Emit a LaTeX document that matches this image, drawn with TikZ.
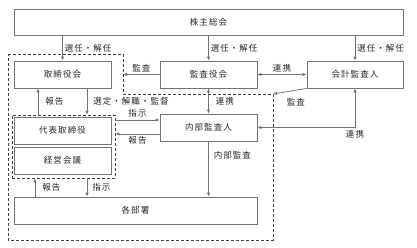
\documentclass[tikz,border=0pt]{standalone}
\usepackage{fontspec}
\setmainfont[LetterSpace=12]{Noto Sans CJK JP}
\usetikzlibrary{arrows.meta}

\begin{document}
\begin{tikzpicture}[x=1pt, y=-1pt,
    box/.style={draw=gray!90!black, line width=0.8pt, minimum width=97pt, minimum height=27pt, inner sep=0pt, text=black!85, font=\fontsize{8.5}{10}\selectfont},
    lbl/.style={font=\fontsize{8.5}{10}\selectfont, text=black!85, inner sep=2pt},
    arr/.style={draw=gray!90!black, line width=0.8pt, -{Latex[length=4pt,width=3.5pt]}},
    arrb/.style={draw=gray!90!black, line width=0.8pt, {Latex[length=4pt,width=3.5pt]}-{Latex[length=4pt,width=3.5pt]}},
    grp/.style={draw=black!75, line width=0.8pt, dash pattern=on 3pt off 2pt}]
    \useasboundingbox (0,0) rectangle (417,247);

    % skupina představenstva
    \draw[grp] (8,54) -- (123,54) -- (123,94) -- (273,94) -- (273,240) -- (8,240) -- cycle;
    \node[grp, minimum width=103pt, minimum height=63pt] (vedeni) at (63.5,146.5) {};

    % boxy
    \node[box, minimum width=389pt, minimum height=26pt] (valna) at (208.5,22) {株主総会};
    \node[box] (predst) at (62.5,74.5) {取締役会};
    \node[box] (dozor) at (208.5,74.5) {監査役会};
    \node[box, minimum width=96pt] (auditor) at (355,74.5) {会計監査人};
    \node[box] (reditel) at (62.5,130.5) {代表取締役};
    \node[box] (porada) at (62.5,160.5) {経営会議};
    \node[box] (interni) at (208.5,127.5) {内部監査人};
    \node[box, minimum width=243pt] (utvary) at (135.5,210.5) {各部署};

    \coordinate (grpL) at (123,74.5);
    \coordinate (grpR) at (273,94);

    % šipky
    \draw[arr] (valna.south -| predst.north) -- (predst.north) node[lbl, midway, right] {選任・解任};
    \draw[arr] (valna.south -| dozor.north) -- (dozor.north) node[lbl, midway, right] {選任・解任};
    \draw[arr] (valna.south -| auditor.north) -- (auditor.north) node[lbl, midway, right] {選任・解任};
    \draw[arr] (dozor.west) -- (grpL) node[lbl, midway, above] {監査};
    \draw[arrb] (dozor.east) -- (auditor.west) node[lbl, midway, above] {連携};
    \draw[arr] ([xshift=-24.5pt]predst.south |- vedeni.north) -- ([xshift=-24.5pt]predst.south) node[lbl, midway, right=5pt] {報告};
    \draw[arr] ([xshift=24.5pt]predst.south) -- ([xshift=24.5pt]predst.south |- vedeni.north) node[lbl, midway, right=4pt] {選定・解職・監督};
    \draw[arrb] (dozor.south) -- (interni.north) node[lbl, midway, right=5pt] {連携};
    \draw[arr] (auditor.south west) -- (grpR) node[lbl, midway, below=5pt, xshift=6pt] {監査};
    \draw[arrb] (auditor.south) |- (interni.east) node[lbl, pos=0.5, below] {連携};
    \draw[arr] ([yshift=7.5pt]interni.west -| vedeni.east) -- ([yshift=7.5pt]interni.west) node[lbl, midway, above] {指示};
    \draw[arr] ([yshift=-6.5pt]interni.west) -- ([yshift=-6.5pt]interni.west -| vedeni.east) node[lbl, midway, below] {報告};
    \draw[arr] (interni.south) -- (interni.south |- utvary.north) node[lbl, midway, right=3pt, yshift=14pt] {内部監査};
    \draw[arr] ([xshift=-28.5pt]vedeni.south |- utvary.north) -- ([xshift=-28.5pt]vedeni.south) node[lbl, midway, right=5pt] {報告};
    \draw[arr] ([xshift=23.5pt]vedeni.south) -- ([xshift=23.5pt]vedeni.south |- utvary.north) node[lbl, midway, right=3pt] {指示};
\end{tikzpicture}
\end{document}
